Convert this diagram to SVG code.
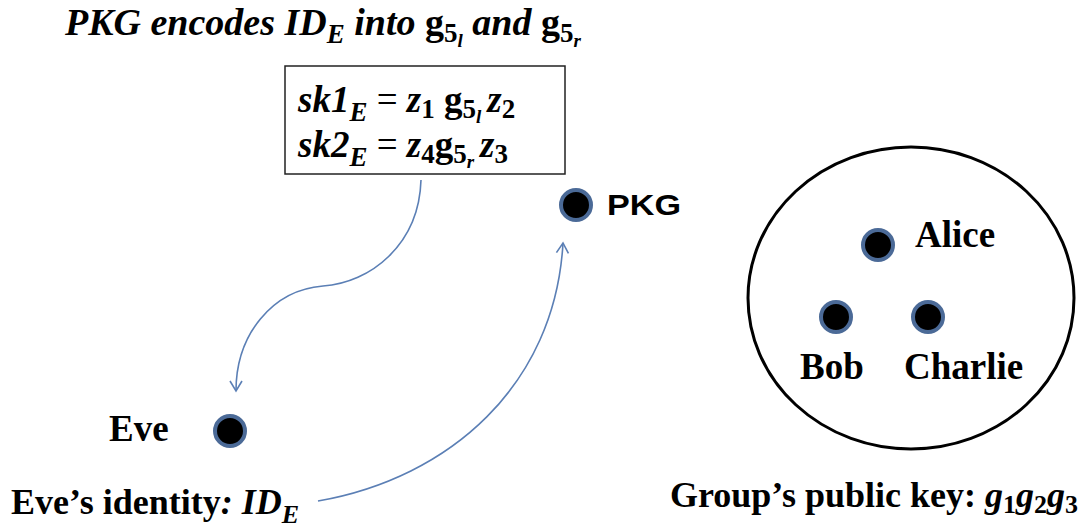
<svg xmlns="http://www.w3.org/2000/svg" width="1089" height="529" viewBox="0 0 1089 529">
  <style>
    .t { font-family: "Liberation Serif", "Times New Roman", serif; font-weight: bold; fill: #000; }
    .bi { font-style: italic; }
    .it { font-style: italic; }
    .rm { font-style: normal; }
    .sans { font-family: "Liberation Sans", Arial, sans-serif; font-weight: bold; fill: #000; }
    .dot { fill: #000; stroke: #4b6a97; stroke-width: 4; }
    .conn { fill: none; stroke: #5b7fb5; stroke-width: 1.6; }
  </style>
  <defs>
    <marker id="arr" markerUnits="userSpaceOnUse" markerWidth="16" markerHeight="16" refX="11" refY="7" orient="auto">
      <path d="M1,1 L11,7 L1,13" fill="none" stroke="#5b7fb5" stroke-width="1.6"/>
    </marker>
  </defs>

  <g id="title">
    <text class="t bi" x="65" y="35" font-size="38">PKG encodes ID<tspan font-size="27" dy="8">E</tspan><tspan dy="-8"> into </tspan><tspan class="rm">g</tspan><tspan class="rm" font-size="27" dy="7">5</tspan><tspan font-size="19" dy="5">l</tspan><tspan dy="-12"> and </tspan><tspan class="rm">g</tspan><tspan class="rm" font-size="27" dy="7">5</tspan><tspan font-size="19" dy="5">r</tspan></text>
  </g>

  <g id="key-box">
    <rect x="285" y="66" width="280" height="108" fill="#fff" stroke="#222" stroke-width="1.5"/>
    <text class="t" x="298" y="112" font-size="37"><tspan class="bi">sk1</tspan><tspan class="it" font-size="27" dy="9">E</tspan><tspan font-weight="normal" dy="-9"> = </tspan><tspan class="it">z</tspan><tspan font-size="27" dy="6">1</tspan><tspan dy="-6"> g</tspan><tspan font-size="27" dy="6">5</tspan><tspan class="it" font-size="19" dy="5">l</tspan><tspan class="it" dx="6" dy="-11">z</tspan><tspan font-size="27" dy="6">2</tspan></text>
    <text class="t" x="298" y="157" font-size="37"><tspan class="bi">sk2</tspan><tspan class="it" font-size="27" dy="9">E</tspan><tspan font-weight="normal" dy="-9"> = </tspan><tspan class="it">z</tspan><tspan font-size="27" dy="6">4</tspan><tspan dy="-6">g</tspan><tspan font-size="27" dy="6">5</tspan><tspan class="it" font-size="19" dy="5">r</tspan><tspan class="it" dx="6" dy="-11">z</tspan><tspan font-size="27" dy="6">3</tspan></text>
  </g>

  <g id="connectors">
    <path class="conn" d="M421,180 C419,245 370,283 323,286 C272,290 236,335 236,391" marker-end="url(#arr)"/>
    <path class="conn" d="M318,501 C450,478 555,385 563,243" marker-end="url(#arr)"/>
  </g>

  <g id="pkg">
    <circle class="dot" cx="576" cy="205" r="15"/>
    <text class="sans" x="607" y="215" font-size="30" textLength="74" lengthAdjust="spacingAndGlyphs">PKG</text>
  </g>

  <g id="eve">
    <circle class="dot" cx="230" cy="431" r="15"/>
    <text class="t" x="109" y="441" font-size="37">Eve</text>
    <text class="t" x="11" y="514" font-size="36">Eve’s identity<tspan class="it">: ID</tspan><tspan class="it" font-size="26" dy="9">E</tspan></text>
  </g>

  <g id="group">
    <ellipse cx="911" cy="298" rx="163" ry="151" fill="none" stroke="#000" stroke-width="3"/>
    <g id="alice">
      <circle class="dot" cx="878" cy="245" r="15"/>
      <text class="t" x="915" y="247" font-size="37">Alice</text>
    </g>
    <g id="bob">
      <circle class="dot" cx="836" cy="317" r="15"/>
      <text class="t" x="800" y="379" font-size="37">Bob</text>
    </g>
    <g id="charlie">
      <circle class="dot" cx="928" cy="317" r="15"/>
      <text class="t" x="904" y="379" font-size="37">Charlie</text>
    </g>
    <text class="t" x="670" y="507" font-size="36">Group’s public key: <tspan class="it">g</tspan><tspan font-size="26" dy="6">1</tspan><tspan class="it" dy="-6">g</tspan><tspan font-size="26" dy="6">2</tspan><tspan class="it" dy="-6">g</tspan><tspan font-size="26" dy="6">3</tspan></text>
  </g>
</svg>
